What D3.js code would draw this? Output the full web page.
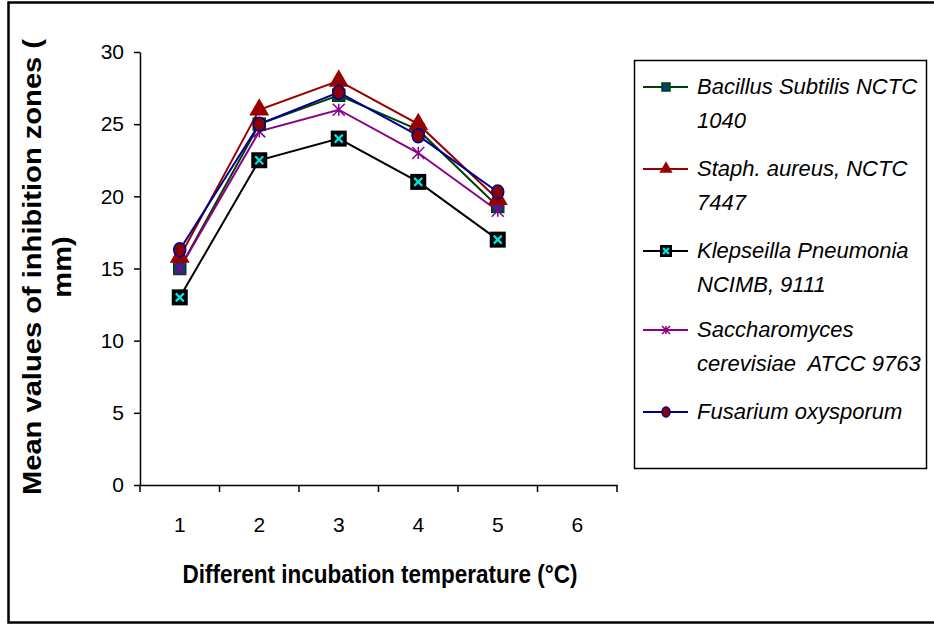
<!DOCTYPE html>
<html>
<head>
<meta charset="utf-8">
<script src="https://cdn.jsdelivr.net/npm/d3@7"></script>
<style>
  body { margin: 0; background: #fff; }
  svg { display: block; font-family: "Liberation Sans", Arial, sans-serif; }
</style>
</head>
<body>
<div class="chart"></div>
<script>
const W = 934, H = 625;

// categories on the x axis
const temps = ["1", "2", "3", "4", "5", "6"];
const yTicks = [0, 5, 10, 15, 20, 25, 30];

// series values (mean inhibition zone, mm), one per temperature 1..5
const bacillus = [15, 25, 27, 24.6, 19.3];
const staph = [15.8, 26, 28, 25, 19.8];
const klebsiella = [13, 22.5, 24, 21, 17];
const saccharomyces = [15, 24.5, 26, 23, 19];
const fusarium = [16.3, 25, 27.2, 24.2, 20.3];

const seriesNames = [
  ["Bacillus Subtilis NCTC", "1040"],
  ["Staph. aureus, NCTC", "7447"],
  ["Klepseilla Pneumonia", "NCIMB, 9111"],
  ["Saccharomyces", "cerevisiae\u00a0 ATCC 9763"],
  ["Fusarium oxysporum"]
];

const series = [
  {name: seriesNames[0], values: bacillus, line: "#004000", marker: "square", fill: "#003f80", stroke: "#004000"},
  {name: seriesNames[1], values: staph, line: "#990000", marker: "triangle", fill: "#990000", stroke: "#990000"},
  {name: seriesNames[2], values: klebsiella, line: "#000000", marker: "xbox", fill: "#000000", stroke: "#00e5e5"},
  {name: seriesNames[3], values: saccharomyces, line: "#8b008b", marker: "star", fill: "none", stroke: "#8b008b"},
  {name: seriesNames[4], values: fusarium, line: "#000090", marker: "circle", fill: "#8b0000", stroke: "#000090"}
];

const svg = d3.select('.chart').append('svg')
    .attr("width", W)
    .attr("height", H);

// outer frame (right edge runs off the picture)
svg.append("rect")
    .attr("x", 8.5).attr("y", 2.5)
    .attr("width", 940).attr("height", 620)
    .attr("fill", "none").attr("stroke", "#000").attr("stroke-width", 2.5);

const xScale = d3.scaleBand()
    .domain(temps)
    .range([140, 617]);

const yScale = d3.scaleLinear()
    .domain([0, 30])
    .range([485, 52]);

const xAxis = d3.axisBottom(xScale)
    .tickSizeInner(0).tickSizeOuter(0).tickPadding(32);

const yAxis = d3.axisLeft(yScale)
    .tickValues(yTicks).tickSize(6).tickSizeOuter(0).tickPadding(10);

const gx = svg.append("g")
    .attr("class", "axis x-axis")
    .attr("transform", "translate(0,485)")
    .call(xAxis);
gx.selectAll("text").attr("font-size", 21).attr("fill", "#000").attr("font-family", null);
gx.select(".domain").attr("stroke", "#000").attr("stroke-width", 1.5);
// tick marks on band boundaries
gx.selectAll(".bound")
    .data(temps.concat(["end"]))
    .enter().append("line")
    .attr("x1", (d, i) => i < temps.length ? xScale(d) : xScale.range()[1])
    .attr("x2", (d, i) => i < temps.length ? xScale(d) : xScale.range()[1])
    .attr("y1", 0).attr("y2", 7)
    .attr("stroke", "#000").attr("stroke-width", 1.5);

const gy = svg.append("g")
    .attr("class", "axis y-axis")
    .attr("transform", "translate(140,0)")
    .call(yAxis);
gy.selectAll("text").attr("font-size", 21).attr("fill", "#000").attr("font-family", null);
gy.select(".domain").attr("stroke", "#000").attr("stroke-width", 1.5);
gy.selectAll(".tick line").attr("stroke", "#000").attr("stroke-width", 1.5);

// axis titles
svg.append("text")
    .attr("transform", "translate(380,583) scale(0.9,1)")
    .attr("text-anchor", "middle")
    .attr("font-size", 25).attr("font-weight", "bold")
    .text("Different incubation temperature (°C)");

const yTitle = svg.append("text")
    .attr("transform", "translate(41,267) rotate(-90) scale(1.12,1)")
    .attr("text-anchor", "middle")
    .attr("font-size", 26).attr("font-weight", "bold");
yTitle.append("tspan").attr("x", 0).attr("y", 0).text("Mean values of inhibition zones (");
yTitle.append("tspan").attr("x", 0).attr("y", 30).text("mm)");

// marker drawing
function drawMarker(g, s, size) {
  if (s.marker === "square") {
    g.append("rect").attr("x", -size / 2).attr("y", -size / 2)
        .attr("width", size).attr("height", size)
        .attr("fill", s.fill).attr("stroke", s.stroke).attr("stroke-width", 1.5);
  } else if (s.marker === "triangle") {
    g.append("path")
        .attr("d", d3.symbol(d3.symbolTriangle, size * size * 1.2)())
        .attr("fill", s.fill);
  } else if (s.marker === "xbox") {
    const h = size / 2 + 2;
    g.append("rect").attr("x", -h).attr("y", -h)
        .attr("width", 2 * h).attr("height", 2 * h).attr("fill", "#000");
    const k = h * 0.5;
    g.append("path").attr("d", `M${-k},${-k}L${k},${k}M${-k},${k}L${k},${-k}`)
        .attr("stroke", s.stroke).attr("stroke-width", 2.2);
  } else if (s.marker === "star") {
    const k = size / 2;
    g.append("path")
        .attr("d", `M${-k},${-k}L${k},${k}M${-k},${k}L${k},${-k}M0,${-k}L0,${k}`)
        .attr("stroke", s.stroke).attr("stroke-width", 1.5);
  } else if (s.marker === "circle") {
    g.append("ellipse").attr("rx", size / 2).attr("ry", size / 2 + 1)
        .attr("fill", s.fill).attr("stroke", s.stroke).attr("stroke-width", 1.5);
  }
}

const line = d3.line()
    .x((d, i) => xScale(temps[i]) + xScale.bandwidth() / 2)
    .y(d => yScale(d));

series.forEach(s => {
  svg.append("path")
      .datum(s.values)
      .attr("d", line)
      .attr("fill", "none")
      .attr("stroke", s.line)
      .attr("stroke-width", 2);
});

series.forEach(s => {
  s.values.forEach((v, i) => {
    const g = svg.append("g")
        .attr("transform", `translate(${xScale(temps[i]) + xScale.bandwidth() / 2},${yScale(v)})`);
    drawMarker(g, s, 12);
  });
});

// legend
const legend = svg.append("g");
legend.append("rect")
    .attr("x", 634.5).attr("y", 60.5)
    .attr("width", 292).attr("height", 408)
    .attr("fill", "#fff").attr("stroke", "#000").attr("stroke-width", 1.5);

const rowY = [87, 169, 251, 330, 412];
series.forEach((s, i) => {
  const g = legend.append("g").attr("transform", `translate(0,${rowY[i]})`);
  g.append("line").attr("x1", 643).attr("x2", 688)
      .attr("stroke", s.line).attr("stroke-width", 2);
  const m = g.append("g").attr("transform", "translate(666,0)");
  drawMarker(m, s, 8);
  const t = g.append("text")
      .attr("font-size", 22).attr("font-style", "italic")
      .attr("fill", "#000");
  s.name.forEach((ln, j) => {
    t.append("tspan").attr("x", 697).attr("y", 7 + j * 34).text(ln);
  });
});
</script>
</body>
</html>
